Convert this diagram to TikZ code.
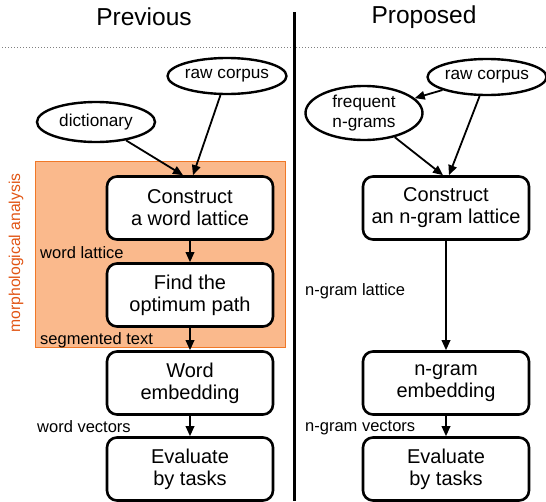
\documentclass[tikz,border=0pt]{standalone}
\usepackage{fontspec}
\setmainfont{Liberation Sans}
\usepackage{tikz}
\usetikzlibrary{arrows.meta,positioning,shapes.geometric}
\definecolor{morphfill}{RGB}{250,185,140}
\definecolor{morphedge}{RGB}{240,120,40}
\definecolor{morphtext}{RGB}{225,85,20}
\tikzset{
	stepbox/.style={draw, line width=2.6pt, rounded corners=10pt, fill=white,
		minimum width=166pt, minimum height=63pt, align=center,
		font=\fontsize{20}{22}\selectfont},
	datanode/.style={draw, ellipse, line width=2.4pt, inner sep=0pt, fill=white,
		align=center, font=\fontsize{17.2}{20.5}\selectfont},
	lbl/.style={anchor=west, inner sep=0pt, font=\fontsize{16.5}{18}\selectfont},
	flow/.style={-{Triangle[length=10pt,width=8.5pt]}, line width=1.8pt},
}
\begin{document}
\begin{tikzpicture}[x=1pt,y=-1pt]
				\useasboundingbox (0,0) rectangle (546,501);
				% headings
				\node[font=\fontsize{24.5}{26}\selectfont] (prev) at (144,17) {Previous};
				\node[font=\fontsize{24.5}{26}\selectfont] (prop) at (424,17) {Proposed};
				\draw[gray, dotted, line width=1pt] (2,47) to (546,47);
				\draw[line width=3pt] (294.5,12) to (294.5,501);
				% morphological analysis
				\draw[morphedge, fill=morphfill, line width=0.8pt] (35,161) rectangle (285,347);
				\node[morphtext, rotate=90, font=\fontsize{15.7}{16}\selectfont] (morph) at (16,253) {morphological analysis};
				% previous
				\node[datanode, minimum width=117pt, minimum height=36pt] (rawL) at (227,76) {raw corpus};
				\node[datanode, minimum width=118pt, minimum height=40pt] (dict) at (96,122) {dictionary};
				\node[stepbox] (lattL) at (190,208) {Construct\\a word lattice};
				\node[stepbox] (path) at (190,295) {Find the\\optimum path};
				\node[stepbox] (embL) at (190,383) {Word\\embedding};
				\node[stepbox] (evalL) at (190,469) {Evaluate\\by tasks};
				\node[lbl] (wlat) at (40,253) {word lattice};
				\node[lbl] (segtxt) at (40,340) {segmented text};
				\node[lbl] (wvec) at (37,427) {word vectors};
				\draw[flow] (dict) to (lattL.north -| 183,0);
				\draw[flow] (rawL) to (lattL.north -| 193,0);
				\draw[flow] (lattL) to (path);
				\draw[flow] (path) to (embL);
				\draw[flow] (embL) to (evalL);
				% proposed
				\node[datanode, minimum width=117pt, minimum height=36pt] (rawR) at (487,77) {raw corpus};
				\node[datanode, minimum width=117pt, minimum height=54pt] (freq) at (364,113) {frequent\\n-grams};
				\node[stepbox] (lattR) at (446,208) {Construct\\an n-gram lattice};
				\node[stepbox] (embR) at (446,383) {n-gram\\embedding};
				\node[stepbox] (evalR) at (446,469) {Evaluate\\by tasks};
				\node[lbl] (nlat) at (305,291) {n-gram lattice};
				\node[lbl] (nvec) at (305,428) {n-gram vectors};
				\draw[flow] (rawR) to (freq);
				\draw[flow] (freq) to (lattR.north -| 443,0);
				\draw[flow] (rawR) to (lattR.north -| 449,0);
				\draw[flow] (lattR) to (embR);
				\draw[flow] (embR) to (evalR);
	\end{tikzpicture}
\end{document}
